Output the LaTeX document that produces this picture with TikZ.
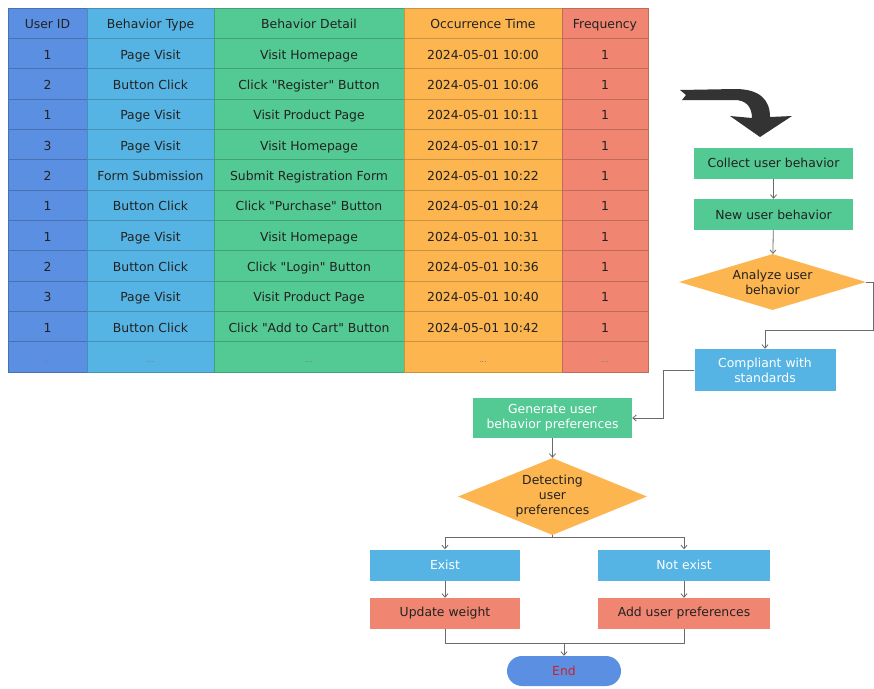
\documentclass[tikz,border=0pt]{standalone}
\usepackage{fontspec}
\setmainfont{DejaVu Sans}[Ligatures=TeXOff]
\usetikzlibrary{shapes.geometric,arrows.meta}
\definecolor{cu}{HTML}{5B8FE2}
\definecolor{cb}{HTML}{56B4E4}
\definecolor{cg}{HTML}{53C993}
\definecolor{co}{HTML}{FDB54F}
\definecolor{cs}{HTML}{F08671}
\definecolor{txt}{HTML}{222222}
\definecolor{lnk}{HTML}{6A6A6A}
\definecolor{endred}{HTML}{C8232C}
\newcommand\tabrow[6]{%
 \pgfmathsetmacro\yy{8+30.333*(#1+0.5)}%
 \node[cell,fill=cu,draw=cu!80!black,minimum width=79pt] (u#1) at (47.5,\yy) {#2};
 \node[cell,fill=cb,draw=cb!80!black,minimum width=127pt] (b#1) at (150.5,\yy) {#3};
 \node[cell,fill=cg,draw=cg!80!black,minimum width=190pt] (d#1) at (309,\yy) {#4};
 \node[cell,fill=co,draw=co!80!black,minimum width=158pt] (o#1) at (483,\yy) {#5};
 \node[cell,fill=cs,draw=cs!80!black,minimum width=86pt] (f#1) at (605,\yy) {#6};
}
\newcommand\celldots{{\fontsize{8}{9}\selectfont\color{txt!60}...}}
\begin{document}
\begin{tikzpicture}[x=1pt,y=-1pt,
  every node/.style={font=\fontsize{12.4}{15}\selectfont,text=txt},
  cell/.style={rectangle,minimum height=30.333pt,inner sep=0pt,line width=0.5pt,text height=11pt,text depth=0pt},
  box/.style={rectangle,minimum height=31pt,inner sep=0pt,align=center},
  dia/.style={diamond,inner sep=0pt,align=center,fill=co},
  ln/.style={draw=lnk,line width=0.8pt},
  arr/.style={ln,-{Straight Barb[length=3.5pt,width=6pt]}}]
\useasboundingbox (0,0) rectangle (874,688);
\fill[white] (0,0) rectangle (874,688);
% table
\tabrow{0}{User ID}{Behavior Type}{Behavior Detail}{Occurrence Time}{Frequency}
\tabrow{1}{1}{Page Visit}{Visit Homepage}{2024-05-01 10:00}{1}
\tabrow{2}{2}{Button Click}{Click "Register" Button}{2024-05-01 10:06}{1}
\tabrow{3}{1}{Page Visit}{Visit Product Page}{2024-05-01 10:11}{1}
\tabrow{4}{3}{Page Visit}{Visit Homepage}{2024-05-01 10:17}{1}
\tabrow{5}{2}{Form Submission}{Submit Registration Form}{2024-05-01 10:22}{1}
\tabrow{6}{1}{Button Click}{Click "Purchase" Button}{2024-05-01 10:24}{1}
\tabrow{7}{1}{Page Visit}{Visit Homepage}{2024-05-01 10:31}{1}
\tabrow{8}{2}{Button Click}{Click "Login" Button}{2024-05-01 10:36}{1}
\tabrow{9}{3}{Page Visit}{Visit Product Page}{2024-05-01 10:40}{1}
\tabrow{10}{1}{Button Click}{Click "Add to Cart" Button}{2024-05-01 10:42}{1}
\tabrow{11}{\celldots}{\celldots}{\celldots}{\celldots}{\celldots}
% big curved arrow
\fill[black!80] (680,90) -- (735,89) .. controls (760,89) and (770,100) .. (770,117)
  -- (792,116) -- (760,137) -- (730,116) -- (752,118)
  .. controls (752,106) and (745,100) .. (735,100) -- (682,100) -- (686,95) -- cycle;
% flowchart
\node[box,fill=cg,minimum width=159pt] (collect) at (773.5,163) {Collect user behavior};
\node[box,fill=cg,minimum width=159pt] (new) at (773.5,214.5) {New user behavior};
\node[dia,minimum width=187pt,minimum height=56pt,aspect=3.3] (analyze) at (772.5,282) {Analyze user\\behavior};
\node[box,fill=cb,text=white,minimum width=141pt,minimum height=42pt] (compliant) at (765,370) {Compliant with\\standards};
\node[box,fill=cg,text=white,minimum width=159pt,minimum height=40pt] (gen) at (552.5,418) {Generate user\\behavior preferences};
\node[dia,minimum width=189pt,minimum height=77pt,aspect=2.45] (detect) at (552.5,496.5) {Detecting\\user\\preferences};
\node[box,fill=cb,text=white,minimum width=150pt] (exist) at (445,565) {Exist};
\node[box,fill=cb,text=white,minimum width=172pt] (notexist) at (684,565) {Not exist};
\node[box,fill=cs,minimum width=150pt] (update) at (445,613.5) {Update weight};
\node[box,fill=cs,minimum width=172pt] (add) at (684,613.5) {Add user preferences};
\node[rectangle,rounded corners=15pt,fill=cu,text=endred,minimum width=114pt,minimum height=30pt] (end) at (564,671) {End};
\coordinate (r1) at (873.5,330);
\coordinate (l1) at (663,418);
\coordinate (s1) at (552.5,537);
\coordinate (m1) at (564,643);
\draw[arr] (collect) -- (new);
\draw[arr] (new) -- (analyze);
\draw[arr] (analyze.east) -| (r1) -| (compliant.north);
\draw[arr] (compliant.west) -| (l1) -- (gen.east);
\draw[arr] (gen) -- (detect);
\draw[ln] (detect.south) -- (s1);
\draw[arr] (s1) -| (exist.north);
\draw[arr] (s1) -| (notexist.north);
\draw[arr] (exist) -- (update);
\draw[arr] (notexist) -- (add);
\draw[ln] (update.south) |- (m1);
\draw[ln] (add.south) |- (m1);
\draw[arr] (m1) -- (end);
\end{tikzpicture}
\end{document}
